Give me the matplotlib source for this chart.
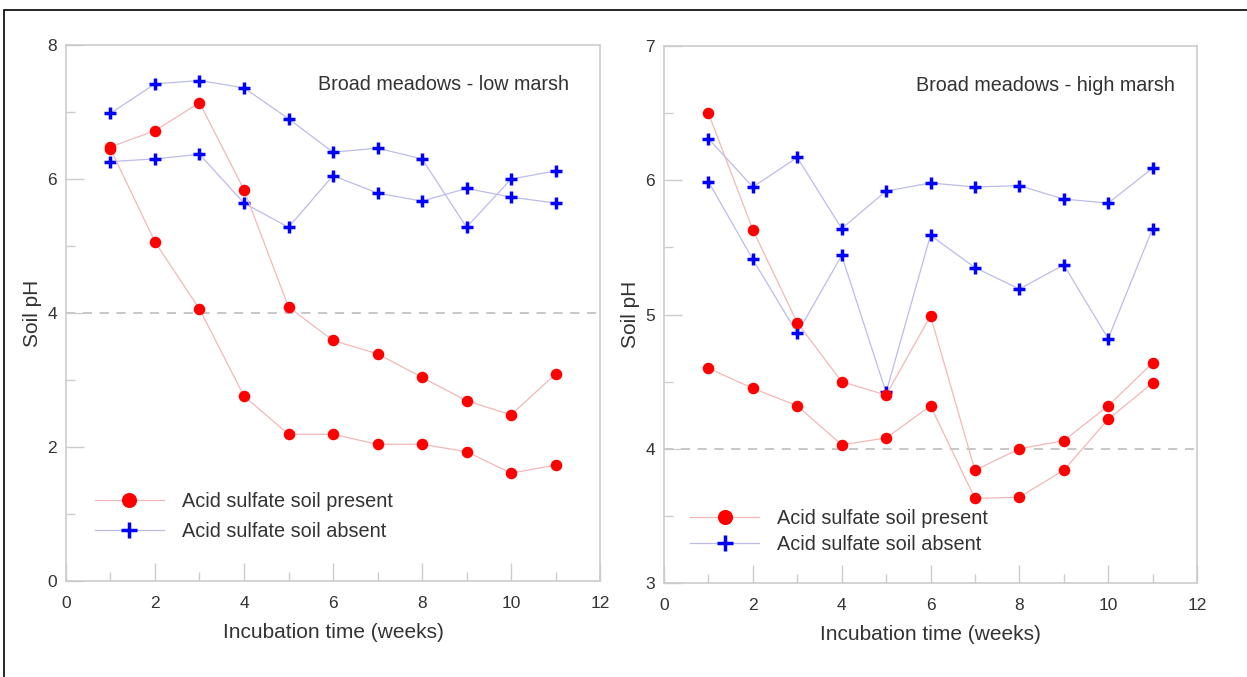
import matplotlib
matplotlib.use("Agg")
import matplotlib.pyplot as plt
from matplotlib.patches import Rectangle
from matplotlib.ticker import MultipleLocator

plt.rcParams['font.family'] = ['Liberation Sans', 'DejaVu Sans']

# incubation weeks
weeks = [1, 2, 3, 4, 5, 6, 7, 8, 9, 10, 11]

# Broad meadows - low marsh
low_present_a = [6.48, 6.72, 7.14, 5.84, 4.09, 3.59, 3.39, 3.04, 2.69, 2.48, 3.09]
low_present_b = [6.45, 5.06, 4.06, 2.76, 2.19, 2.19, 2.04, 2.04, 1.93, 1.61, 1.73]
low_absent_a = [6.98, 7.42, 7.47, 7.36, 6.90, 6.40, 6.46, 6.30, 5.28, 6.00, 6.12]
low_absent_b = [6.26, 6.30, 6.37, 5.64, 5.28, 6.05, 5.79, 5.67, 5.86, 5.73, 5.64]

# Broad meadows - high marsh
high_present_a = [6.50, 5.63, 4.94, 4.50, 4.40, 4.99, 3.84, 4.00, 4.06, 4.32, 4.64]
high_present_b = [4.60, 4.45, 4.32, 4.03, 4.08, 4.32, 3.63, 3.64, 3.84, 4.22, 4.49]
high_absent_a = [6.31, 5.95, 6.17, 5.64, 5.92, 5.98, 5.95, 5.96, 5.86, 5.83, 6.09]
high_absent_b = [5.99, 5.41, 4.86, 5.44, 4.42, 5.59, 5.35, 5.19, 5.37, 4.82, 5.64]

threshold = 4.0

red_line = '#f2b8b8'
blue_line = '#bcbce8'
spine_col = '#cccccc'
text_col = '#333333'

fig = plt.figure(figsize=(12.47, 6.77), dpi=100)
ax1 = fig.add_axes([0.0529, 0.1418, 0.4283, 0.7917])
ax2 = fig.add_axes([0.5325, 0.1388, 0.4274, 0.7932])


def draw_panel(ax, present, absent, title, title_x, ylim, ymajor, yminor,
               leg_anchor, leg_spacing):
    ax.axhline(threshold, color='#b8b8b8', lw=1.1, ls=(0, (6, 5)), zorder=1)
    for i, vals in enumerate(absent):
        ax.plot(weeks, vals, color=blue_line, lw=0.9, marker='+', ms=9,
                mec='#0000ff', mew=2.5, zorder=3,
                label='Acid sulfate soil absent' if i == 0 else None)
    for i, vals in enumerate(present):
        ax.plot(weeks, vals, color=red_line, lw=0.9, marker='o', ms=7.3,
                mfc='#ff0000', mec='#ff0000', zorder=4,
                label='Acid sulfate soil present' if i == 0 else None)

    ax.set_xlim(0, 12)
    ax.set_ylim(*ylim)
    ax.xaxis.set_major_locator(MultipleLocator(2))
    ax.xaxis.set_minor_locator(MultipleLocator(1))
    ax.yaxis.set_major_locator(MultipleLocator(ymajor))
    ax.yaxis.set_minor_locator(MultipleLocator(yminor))
    ax.tick_params(which='both', direction='in', color=spine_col, labelcolor=text_col,
                   labelsize=12.5, top=False, right=False)
    ax.tick_params(which='major', length=13, width=1)
    ax.tick_params(which='minor', length=6.5, width=1)
    ax.tick_params(axis='x', which='both', pad=11)
    ax.tick_params(axis='y', which='both', pad=6.5)
    for s in ax.spines.values():
        s.set_color(spine_col)
        s.set_linewidth(1.2)

    ax.set_xlabel('Incubation time (weeks)', fontsize=15, color=text_col, labelpad=8.5)
    ax.set_ylabel('Soil pH', fontsize=15, color=text_col, labelpad=4)
    ax.text(title_x, 0.927, title, transform=ax.transAxes, ha='right', va='center',
            fontsize=14.2, color=text_col)

    # legend order: present then absent
    h, l = ax.get_legend_handles_labels()
    order = [l.index('Acid sulfate soil present'), l.index('Acid sulfate soil absent')]
    ax.legend([h[k] for k in order], [l[k] for k in order], loc='upper left',
              bbox_to_anchor=leg_anchor, frameon=False, fontsize=14.3,
              markerscale=1.35, handlelength=3.5, handletextpad=0.9,
              labelspacing=leg_spacing, labelcolor=text_col)


draw_panel(ax1, [low_present_a, low_present_b], [low_absent_a, low_absent_b],
           'Broad meadows - low marsh', 0.942, (0, 8), 2, 1, (0.02, 0.2), 0.58)
draw_panel(ax2, [high_present_a, high_present_b], [high_absent_a, high_absent_b],
           'Broad meadows - high marsh', 0.959, (3, 7), 1, 0.5, (0.015, 0.171), 0.36)

# outer frame (only left and top edges are in view)
fig.add_artist(Rectangle((4 / 1247, -0.1), 1.2, 1 - 10 / 677 + 0.1,
                         transform=fig.transFigure, fill=False,
                         edgecolor='black', lw=1.2))

fig.savefig('out.png', dpi=100)
